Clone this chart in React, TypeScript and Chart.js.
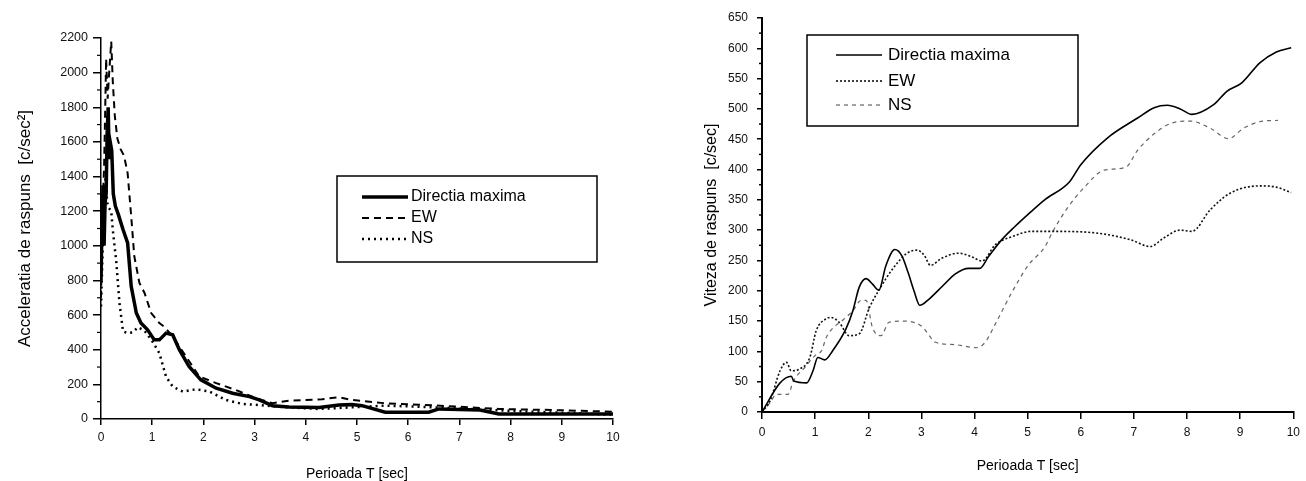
import { useEffect, useRef } from 'react';
import { Chart, registerables } from 'chart.js';

Chart.register(...registerables);

// ---------- Left chart: response acceleration ----------
const accMaxT = [0, 0.02, 0.04, 0.06, 0.08, 0.10, 0.12, 0.14, 0.16, 0.18, 0.21, 0.24, 0.28, 0.34, 0.43, 0.52, 0.59, 0.69, 0.78, 0.91, 1.04, 1.14, 1.27, 1.40, 1.53, 1.72, 1.95, 2.25, 2.57, 2.90, 3.09, 3.35, 3.67, 4.26, 4.65, 4.90, 5.10, 5.55, 6.40, 6.60, 7.40, 7.77, 10];
const accMax = [800, 1150, 1350, 1000, 1250, 1300, 1650, 1800, 1500, 1600, 1550, 1300, 1230, 1180, 1094, 1017, 766, 612, 554, 515, 457, 457, 496, 486, 400, 303, 226, 178, 149, 129, 110, 77, 70, 67, 81, 83, 77, 39, 39, 58, 52, 29, 29];

const accEwT = [0, 0.03, 0.06, 0.08, 0.10, 0.13, 0.16, 0.20, 0.23, 0.27, 0.32, 0.38, 0.45, 0.52, 0.59, 0.65, 0.75, 0.85, 0.98, 1.14, 1.24, 1.40, 1.66, 1.92, 2.25, 2.63, 3.03, 3.35, 3.67, 4.32, 4.65, 4.90, 5.55, 6.20, 6.99, 7.77, 8.80, 10];
const accEw = [700, 1200, 1450, 1750, 2080, 1850, 2000, 2180, 1950, 1750, 1620, 1560, 1520, 1420, 1170, 940, 786, 728, 612, 554, 531, 476, 361, 245, 207, 168, 120, 91, 106, 114, 126, 110, 91, 83, 71, 58, 52, 42];

const accNsT = [0, 0.03, 0.06, 0.09, 0.12, 0.15, 0.20, 0.23, 0.30, 0.36, 0.43, 0.52, 0.62, 0.72, 0.85, 1.00, 1.14, 1.27, 1.40, 1.60, 1.86, 2.12, 2.44, 2.76, 3.09, 3.50, 4.26, 5.55, 6.20, 7.20, 7.90, 10];
const accNs = [650, 950, 1300, 1400, 1250, 1220, 1200, 1094, 903, 672, 506, 496, 500, 530, 510, 450, 380, 245, 187, 158, 172, 158, 110, 87, 81, 70, 58, 77, 71, 58, 48, 25];

// ---------- Right chart: response velocity ----------
const velMaxT = [0, 0.34, 0.55, 0.60, 0.84, 0.96, 1.05, 1.18, 1.33, 1.58, 1.71, 1.83, 1.96, 2.08, 2.20, 2.33, 2.50, 2.63, 2.75, 2.86, 2.97, 3.14, 3.39, 3.64, 3.89, 4.10, 4.26, 4.51, 4.76, 5.07, 5.32, 5.79, 6.00, 6.50, 7.07, 7.38, 7.63, 7.87, 8.09, 8.50, 8.75, 9.03, 9.37, 9.68, 9.96];
const velMax = [0, 48, 59, 51, 48, 68, 90, 86, 101, 137, 167, 206, 220, 211, 201, 241, 268, 258, 230, 200, 176, 186, 207, 228, 237, 237, 256, 284, 306, 331, 350, 380, 408, 452, 485, 502, 506, 500, 491, 507, 529, 543, 576, 594, 601];

const velEwT = [0, 0.15, 0.34, 0.46, 0.55, 0.71, 0.90, 1.02, 1.21, 1.30, 1.45, 1.64, 1.83, 2.02, 2.20, 2.45, 2.73, 2.92, 3.05, 3.17, 3.39, 3.70, 3.95, 4.14, 4.39, 4.70, 5.07, 5.44, 6.32, 6.94, 7.31, 7.56, 7.87, 8.09, 8.44, 8.81, 9.37, 9.68, 9.96];
const velEw = [0, 18, 68, 82, 68, 71, 90, 134, 154, 156, 148, 126, 129, 172, 201, 235, 262, 267, 259, 242, 254, 262, 256, 249, 276, 289, 298, 298, 295, 284, 273, 287, 300, 298, 334, 361, 373, 371, 362];

const velNsT = [0, 0.15, 0.27, 0.49, 0.59, 0.80, 1.02, 1.12, 1.21, 1.34, 1.50, 1.71, 1.86, 1.96, 2.08, 2.24, 2.39, 2.64, 3.00, 3.27, 3.64, 4.04, 4.20, 4.39, 4.70, 5.01, 5.32, 5.48, 5.76, 6.07, 6.44, 6.85, 7.07, 7.38, 7.69, 8.06, 8.44, 8.78, 9.06, 9.43, 9.71];
const velNs = [0, 15, 29, 29, 51, 73, 95, 101, 123, 139, 150, 167, 184, 184, 139, 126, 148, 150, 142, 115, 111, 106, 115, 145, 197, 242, 272, 299, 338, 371, 399, 404, 432, 459, 476, 480, 468, 451, 468, 480, 481];

const seriesLabels = ['Directia maxima', 'EW', 'NS'];
const accTitleY = 'Acceleratia de raspuns  [c/sec²]';
const velTitleY = 'Viteza de raspuns  [c/sec]';
const periodTitle = 'Perioada T [sec]';

const FONT = "'Liberation Sans', Arial, sans-serif";

const pts = (t: number[], v: number[]) => t.map((x, i) => ({ x, y: v[i] }));

const minorTicks = {
  id: 'minorTicks',
  afterDraw(chart: any, _a: any, o: any) {
    const ctx = chart.ctx;
    ctx.save();
    ctx.strokeStyle = '#000';
    ctx.lineWidth = o.width || 1;
    for (const m of o.list || []) {
      const s = chart.scales[m.id];
      for (let v = s.min; v <= s.max + 1e-9; v += m.step) {
        if (Math.abs(v / m.major - Math.round(v / m.major)) < 1e-6) continue;
        const p = s.getPixelForValue(v);
        ctx.beginPath();
        ctx.moveTo(s.right - m.len, p);
        ctx.lineTo(s.right, p);
        ctx.stroke();
      }
    }
    ctx.restore();
  },
};

const legendBox = {
  id: 'legendBox',
  afterDraw(chart: any, _a: any, o: any) {
    const ctx = chart.ctx;
    ctx.save();
    ctx.strokeStyle = '#000';
    ctx.lineWidth = o.borderWidth;
    ctx.setLineDash([]);
    ctx.strokeRect(o.x, o.y, o.w, o.h);
    chart.data.datasets.forEach((ds: any, i: number) => {
      const y = o.rows[i];
      ctx.beginPath();
      ctx.setLineDash(ds.borderDash || []);
      ctx.lineWidth = ds.borderWidth;
      ctx.strokeStyle = ds.borderColor;
      ctx.moveTo(o.lineX0, y);
      ctx.lineTo(o.lineX1, y);
      ctx.stroke();
      ctx.setLineDash([]);
      ctx.fillStyle = '#000';
      ctx.font = o.font;
      ctx.textBaseline = 'middle';
      ctx.textAlign = 'left';
      ctx.fillText(ds.label, o.textX, y);
    });
    ctx.restore();
  },
};

function axis(opts: any) {
  return {
    type: 'linear',
    min: opts.min,
    max: opts.max,
    afterFit: opts.afterFit,
    ticks: {
      stepSize: opts.step,
      autoSkip: false,
      padding: opts.padding,
      color: '#111',
      font: { family: FONT, size: opts.tickSize || 12 },
      maxRotation: 0,
      callback: (v: any) => String(v),
    },
    grid: {
      display: true,
      drawOnChartArea: false,
      drawTicks: true,
      tickLength: opts.tickLength,
      color: '#000',
      lineWidth: 1.5,
    },
    border: { display: true, color: '#000', width: opts.borderWidth },
    title: {
      display: true,
      text: opts.title,
      color: '#000',
      font: { family: FONT, size: opts.titleSize },
      padding: opts.titlePadding,
    },
  };
}

function useChart(ref: any, config: any) {
  useEffect(() => {
    const chart = new Chart(ref.current, config);
    return () => chart.destroy();
  }, []);
}

function AccChart() {
  const ref = useRef<HTMLCanvasElement>(null);
  useChart(ref, {
    type: 'line',
    data: {
      datasets: [
        { label: seriesLabels[0], data: pts(accMaxT, accMax), borderColor: '#000', borderWidth: 3.5, borderDash: [], pointRadius: 0, tension: 0 },
        { label: seriesLabels[1], data: pts(accEwT, accEw), borderColor: '#000', borderWidth: 2, borderDash: [7, 5], pointRadius: 0, tension: 0 },
        { label: seriesLabels[2], data: pts(accNsT, accNs), borderColor: '#000', borderWidth: 2.5, borderDash: [2, 4], pointRadius: 0, tension: 0 },
      ],
    },
    options: {
      responsive: false,
      animation: false,
      events: [],
      layout: { padding: { left: 0, top: 38, right: 47, bottom: 0 } },
      plugins: {
        legend: { display: false },
        tooltip: { enabled: false },
        minorTicks: { width: 1.2, list: [{ id: 'y', step: 100, major: 200, len: 4 }] },
        legendBox: { x: 337, y: 176, w: 260, h: 86, borderWidth: 1.5, rows: [197, 218, 239], lineX0: 362, lineX1: 408, textX: 411, font: `16px ${FONT}` },
      },
      scales: {
        x: axis({ min: 0, max: 10, step: 1, padding: 5, tickLength: 6, borderWidth: 1.5, title: periodTitle, titleSize: 14, titlePadding: { top: 0, bottom: -2 }, afterFit: (s: any) => { s.height = 62; } }),
        y: axis({ min: 0, max: 2200, step: 200, padding: 5, tickLength: 8, borderWidth: 1.5, tickSize: 12.5, title: accTitleY, titleSize: 17, titlePadding: { top: 15, bottom: 0 }, afterFit: (s: any) => { s.width = 101; } }),
      },
    },
    plugins: [minorTicks, legendBox],
  });
  return <canvas ref={ref} width={660} height={481} style={{ position: 'absolute', left: 0, top: 0 }} />;
}

function VelChart() {
  const ref = useRef<HTMLCanvasElement>(null);
  useChart(ref, {
    type: 'line',
    data: {
      datasets: [
        { label: seriesLabels[0], data: pts(velMaxT, velMax), borderColor: '#000', borderWidth: 1.6, borderDash: [], pointRadius: 0, cubicInterpolationMode: 'monotone' },
        { label: seriesLabels[1], data: pts(velEwT, velEw), borderColor: '#111', borderWidth: 1.6, borderDash: [2, 2], pointRadius: 0, cubicInterpolationMode: 'monotone' },
        { label: seriesLabels[2], data: pts(velNsT, velNs), borderColor: '#666', borderWidth: 1.2, borderDash: [4, 4], pointRadius: 0, cubicInterpolationMode: 'monotone' },
      ],
    },
    options: {
      responsive: false,
      animation: false,
      events: [],
      layout: { padding: { left: 0, top: 18, right: 10, bottom: 0 } },
      plugins: {
        legend: { display: false },
        tooltip: { enabled: false },
        minorTicks: { width: 1.5, list: [{ id: 'y', step: 25, major: 50, len: 3 }] },
        legendBox: { x: 147, y: 35, w: 271, h: 91, borderWidth: 1.5, rows: [55, 81, 105], lineX0: 176, lineX1: 222, textX: 228, font: `17px ${FONT}` },
      },
      scales: {
        x: axis({ min: 0, max: 10, step: 1, padding: 6, tickLength: 7, borderWidth: 2, title: periodTitle, titleSize: 14, titlePadding: { top: 0, bottom: 6 }, afterFit: (s: any) => { s.height = 69; } }),
        y: axis({ min: 0, max: 650, step: 50, padding: 9, tickLength: 5, borderWidth: 2, title: velTitleY, titleSize: 16, titlePadding: { top: 42, bottom: 0 }, afterFit: (s: any) => { s.width = 102; } }),
      },
    },
    plugins: [minorTicks, legendBox],
  });
  return <canvas ref={ref} width={646} height={481} style={{ position: 'absolute', left: 660, top: 0 }} />;
}

export default function App() {
  return (
    <div style={{ position: 'absolute', left: 0, top: 0, width: 1306, height: 481, background: '#fff', overflow: 'hidden' }}>
      <AccChart />
      <VelChart />
    </div>
  );
}
